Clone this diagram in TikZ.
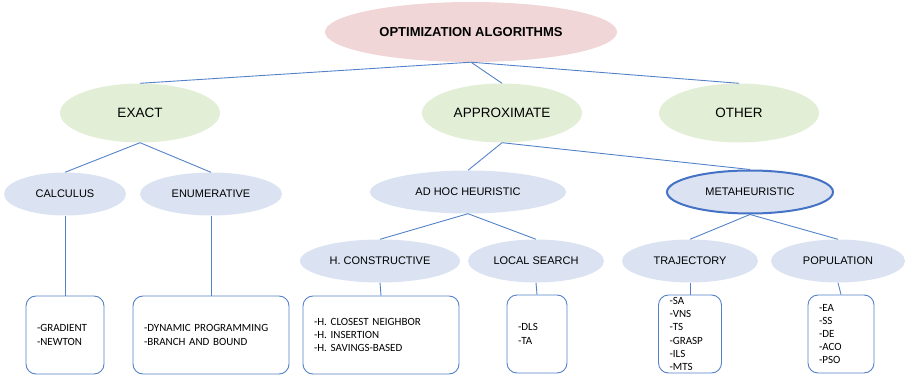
\documentclass[tikz,border=0pt]{standalone}
\usepackage{fontspec}
\setmainfont{Liberation Sans}
\newfontfamily\boxfont{Carlito}
\usetikzlibrary{shapes.geometric, positioning}

\definecolor{rootpink}{RGB}{240,214,214}
\definecolor{classgreen}{RGB}{226,239,214}
\definecolor{subblue}{RGB}{219,227,242}
\definecolor{linkblue}{RGB}{84,130,200}
\definecolor{metablue}{RGB}{68,114,196}

\begin{document}
\begin{tikzpicture}[x=1pt, y=-1pt,
    top/.style = {ellipse, fill=rootpink, inner sep=0pt, minimum width=292pt, minimum height=60pt, font=\fontsize{13}{15}\selectfont\bfseries},
    cls/.style = {ellipse, fill=classgreen, inner sep=0pt, minimum width=160pt, minimum height=59pt, font=\fontsize{13.5}{16}\selectfont},
    sub/.style = {ellipse, fill=subblue, inner sep=0pt, minimum height=43pt, font=\fontsize{11}{13}\selectfont},
    leaf/.style = {draw=linkblue, line width=0.9pt, rounded corners=10pt, fill=white, inner xsep=11pt, inner ysep=0pt, minimum height=78pt, align=left, font=\boxfont\fontsize{11}{13.2}\selectfont},
    link/.style = {draw=linkblue, line width=0.9pt}]
\useasboundingbox (0,0) rectangle (905,377);

% levels 0 and 1
\node[top] (opt) at (471,32) {OPTIMIZATION ALGORITHMS};
\node[cls] (exact) at (140,113) {EXACT};
\node[cls] (approx) at (502,113) {APPROXIMATE};
\node[cls] (other) at (739,113) {OTHER};

% level 2
\node[sub, minimum width=122pt] (calc) at (65,194) {CALCULUS};
\node[sub, minimum width=142pt] (enum) at (211,194) {ENUMERATIVE};
\node[sub, minimum width=196pt] (adhoc) at (468,192) {AD HOC HEURISTIC};
\node[sub, minimum width=166pt, draw=metablue, line width=2pt] (meta) at (750,192) {METAHEURISTIC};

% level 3
\node[sub, minimum width=160pt] (hcons) at (380,261) {H. CONSTRUCTIVE};
\node[sub, minimum width=136pt] (lsearch) at (536,261) {LOCAL SEARCH};
\node[sub, minimum width=136pt] (traj) at (690,261) {TRAJECTORY};
\node[sub, minimum width=134pt] (pop) at (838,261) {POPULATION};

% lists
\node[leaf, text width=56pt] (gradbox) at (65,335) {-GRADIENT\\-NEWTON};
\node[leaf, text width=134pt] (dpbox) at (211,335) {-DYNAMIC PROGRAMMING\\-BRANCH AND BOUND};
\node[leaf, text width=134pt] (hbox) at (381,335) {-H. CLOSEST NEIGHBOR\\-H. INSERTION\\-H. SAVINGS-BASED};
\node[leaf, text width=38pt] (lsbox) at (537,334) {-DLS\\-TA};
\node[leaf, text width=41pt] (trajbox) at (690,334) {-SA\\-VNS\\-TS\\-GRASP\\-ILS\\-MTS};
\node[leaf, text width=44pt] (popbox) at (841,334) {-EA\\-SS\\-DE\\-ACO\\-PSO};

\draw[link] (opt.south) -- (exact.north);
\draw[link] (opt.south) -- (approx.north);
\draw[link] (opt.south) -- (other.north);
\draw[link] (exact.south) -- (calc.north);
\draw[link] (exact.south) -- (enum.north);
\draw[link] (approx.south) -- (adhoc.north);
\draw[link] (approx.south) -- (meta.north);
\draw[link] (adhoc.south) -- (hcons.north);
\draw[link] (adhoc.south) -- (lsearch.north);
\draw[link] (meta.south) -- (traj.north);
\draw[link] (meta.south) -- (pop.north);
\draw[link] (calc.south) -- (gradbox.north);
\draw[link] (enum.south) -- (dpbox.north);
\draw[link] (hcons.south) -- (hbox.north);
\draw[link] (lsearch.south) -- (lsbox.north);
\draw[link] (traj.south) -- (trajbox.north);
\draw[link] (pop.south) -- (popbox.north);
\end{tikzpicture}
\end{document}
